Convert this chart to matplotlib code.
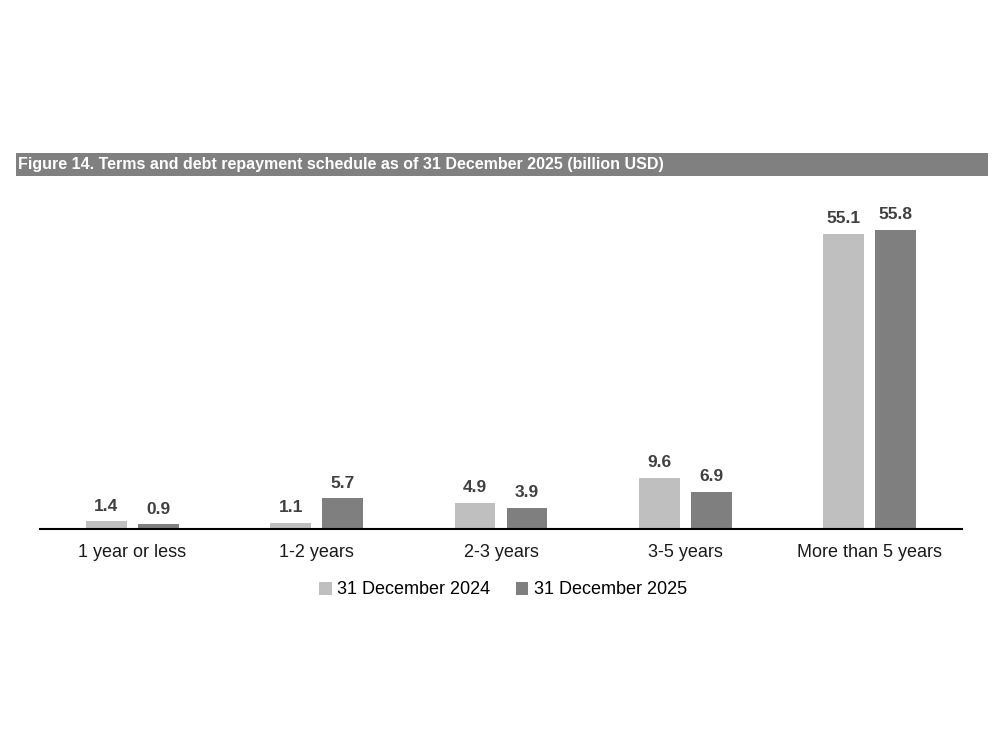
import matplotlib
matplotlib.use("Agg")
import matplotlib.pyplot as plt
from matplotlib.patches import Rectangle
import numpy as np

categories = ["1 year or less", "1-2 years", "2-3 years", "3-5 years", "More than 5 years"]
series_names = ["31 December 2024", "31 December 2025"]
values_2024 = [1.4, 1.1, 4.9, 9.6, 55.1]
values_2025 = [0.9, 5.7, 3.9, 6.9, 55.8]
colors = ["#bfbfbf", "#7f7f7f"]
title = "Figure 14. Terms and debt repayment schedule as of 31 December 2025 (billion USD)"

plt.rcParams['font.family'] = ['Liberation Sans', 'DejaVu Sans']

fig = plt.figure(figsize=(10, 7.5), dpi=100)
W, H = 1000, 750

# title bar
fig.patches.append(Rectangle((16 / W, 1 - 176 / H), (988 - 16) / W, 23 / H,
                             transform=fig.transFigure, facecolor="#808080",
                             edgecolor="none", zorder=0))
fig.text(18 / W, 1 - 164.5 / H, title, color="white", fontsize=11.5,
         fontweight="bold", va="center", ha="left", fontstretch="condensed")

ax = fig.add_axes([40 / W, 1 - 529 / H, (962 - 40) / W, (529 - 200) / H])
x = np.arange(len(categories))
width = 0.222
off = 0.141
for vals, name, c, sgn in [(values_2024, series_names[0], colors[0], -1),
                           (values_2025, series_names[1], colors[1], 1)]:
    bars = ax.bar(x + sgn * off, vals, width, color=c, label=name, zorder=2)
    for b, v in zip(bars, vals):
        ax.annotate(f"{v:.1f}", (b.get_x() + b.get_width() / 2, b.get_height()),
                    xytext=(0, 5.5), textcoords="offset points", ha="center",
                    va="bottom", fontsize=12.5, fontweight="bold", color="#404040")

ax.set_xlim(-0.5, len(categories) - 0.5)
ax.set_ylim(0, 329 / (299 / 55.8))
ax.set_xticks(x)
ax.set_xticklabels(categories, fontsize=13, color="#1a1a1a")
ax.tick_params(axis="x", length=0, pad=11)
ax.set_yticks([])
for s in ["top", "right", "left"]:
    ax.spines[s].set_visible(False)
ax.spines["bottom"].set_color("black")
ax.spines["bottom"].set_linewidth(1.5)

leg = fig.legend(loc="center", bbox_to_anchor=(503 / W, 1 - 590 / H), ncol=2,
                 frameon=False, fontsize=13, handlelength=0.7, handleheight=0.7,
                 handletextpad=0.3, columnspacing=1.4)

fig.savefig("out.png", dpi=100)
